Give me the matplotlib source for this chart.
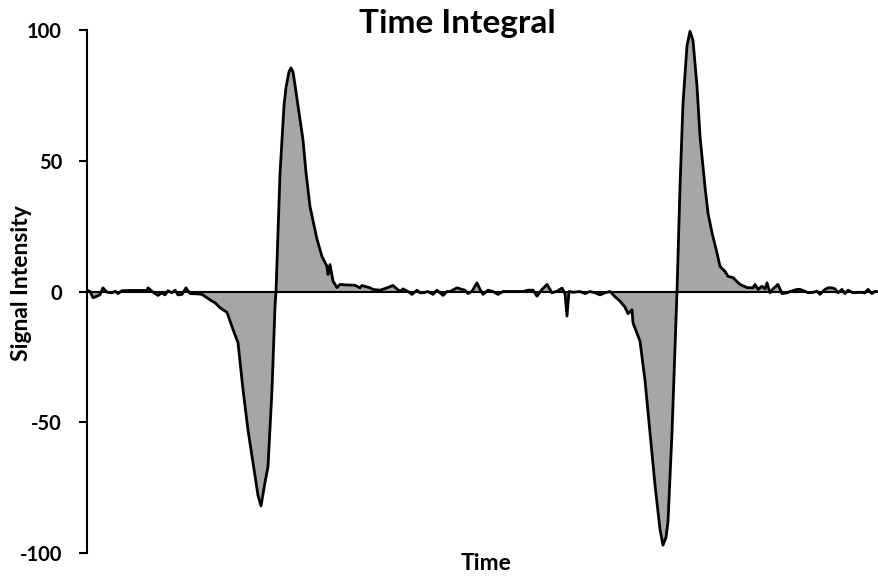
import matplotlib.pyplot as plt
import numpy as np

plt.rcParams['font.family'] = ['Lato', 'DejaVu Sans']
plt.rcParams['axes.unicode_minus'] = False

# sample times (arbitrary units) and the integrated signal, ten per row
time = [0, 3, 6, 10, 13, 16, 20, 25, 28, 31,
        35, 43, 53, 60, 61, 65, 68, 71, 75, 78,
        81, 85, 88, 91, 95, 99, 103, 110, 115, 120,
        125, 128, 133, 140, 146, 151, 156, 161, 166, 171,
        174, 178, 181, 185, 188, 189, 193, 197, 199, 202,
        204, 206, 208, 211, 216, 219, 223, 230, 235, 240,
        241, 243, 246, 250, 253, 260, 268, 273, 275, 283,
        286, 293, 300, 306, 313, 316, 321, 325, 330, 333,
        336, 341, 346, 350, 353, 356, 360, 363, 370, 375,
        378, 381, 385, 390, 393, 396, 401, 406, 411, 416,
        421, 426, 436, 441, 446, 450, 455, 460, 465, 470,
        475, 478, 480, 482, 486, 493, 498, 503, 508, 513,
        518, 523, 528, 533, 538, 541, 545, 546, 553, 558,
        563, 568, 573, 576, 579, 581, 585, 588, 590, 593,
        596, 600, 603, 606, 610, 613, 618, 621, 625, 630,
        633, 638, 641, 646, 653, 660, 666, 668, 671, 675,
        678, 680, 683, 686, 691, 695, 700, 703, 710, 713,
        718, 721, 726, 730, 733, 738, 741, 745, 748, 751,
        755, 758, 761, 766, 773, 778, 781, 785, 788, 791]
signal = [0.5, 0, -2.4, -1.8, -1.2, 1.4, -0.3, -0.5, 0.1, -0.8,
          0.3, 0.4, 0.4, 0.4, 1.4, 0.1, -0.8, -1.5, -0.5, -1.3,
          0.3, -0.5, 0.5, -1.3, -1.1, 1.4, -0.8, -0.9, -1.1, -2.4,
          -3.7, -4.3, -6.2, -8, -14.5, -19.6, -37.5, -53, -65.5, -78,
          -82, -73, -67, -37.5, -5.7, 0, 45, 71, 78, 84,
          85.5, 84, 79, 71, 58, 45.5, 32.5, 20, 13.4, 9.6,
          6.5, 10.3, 4, 1.5, 2.7, 2.5, 2.4, 1.4, 2.3, 1.4,
          0.8, 0.5, 1.4, 2.3, 0, 1.0, 0, -1.1, 0.5, -0.5,
          -0.5, 0, -1.1, 0.5, -0.5, -1.5, 0, 0, 1.4, 0.8,
          0.5, -0.8, 0.1, 3.3, 0.8, -1.1, 0.5, 0, -1.1, 0,
          0, 0, 0, 0.5, 0.5, -1.8, 0.8, 2.7, -0.5, 0.1,
          1.3, -0.8, -9.4, 0, -0.3, 0, -0.8, 0, -0.5, -1.3,
          -0.5, 0, -2, -3.7, -6, -8.5, -7, -12, -19, -34,
          -54, -74, -91, -97, -94, -88, -54, -21, 0, 40,
          72, 94, 99.5, 96, 78.5, 59.4, 40, 30, 22.5, 14.7,
          9.6, 7.7, 5.8, 5.3, 2.7, 1.5, 1.4, 2.7, 0.8, 2,
          1.0, 3.3, -0.5, 1.0, 2.7, -0.8, -0.5, 0, 0.8, 0.8,
          0.1, -0.5, -0.3, 0.1, -1.1, 0.8, 1.4, 1.4, 1.0, -0.5,
          0.8, -0.8, 0.5, -0.5, -0.3, -0.5, 0.8, -0.8, 0.1, -0.1]

t = np.array(time)
s = np.array(signal)

fig = plt.figure(figsize=(8.79, 5.77), dpi=100)
ax = fig.add_axes([87 / 879, 1 - 553 / 577, 1 - 87 / 879, 523 / 577])

ax.fill_between(t, s, 0, color='#a6a6a6', interpolate=True, linewidth=0)
ax.plot(t, s, color='black', linewidth=2)

ax.set_xlim(0, 792)
ax.set_ylim(-100, 100)
ax.set_yticks([-100, -50, 0, 50, 100])
ax.set_xticks([])

for side in ['top', 'right']:
    ax.spines[side].set_visible(False)
ax.spines['bottom'].set_position(('data', 0))
ax.spines['bottom'].set_linewidth(1.5)
ax.spines['left'].set_linewidth(1.5)
ax.tick_params(axis='y', direction='out', length=6, width=1.5, pad=12,
               labelsize=14.5)
for lab in ax.get_yticklabels():
    lab.set_fontweight('bold')

fig.text(457 / 879, 1 - 23 / 577, 'Time Integral', ha='center', va='center',
         fontsize=24, fontweight='bold')
fig.text(486 / 879, 1 - 563 / 577, 'Time', ha='center', va='center',
         fontsize=16.5, fontweight='bold')
fig.text(22 / 879, 1 - 283 / 577, 'Signal Intensity', ha='center',
         va='center', rotation=90, fontsize=16.5, fontweight='bold')

fig.savefig('out.png', dpi=100)
